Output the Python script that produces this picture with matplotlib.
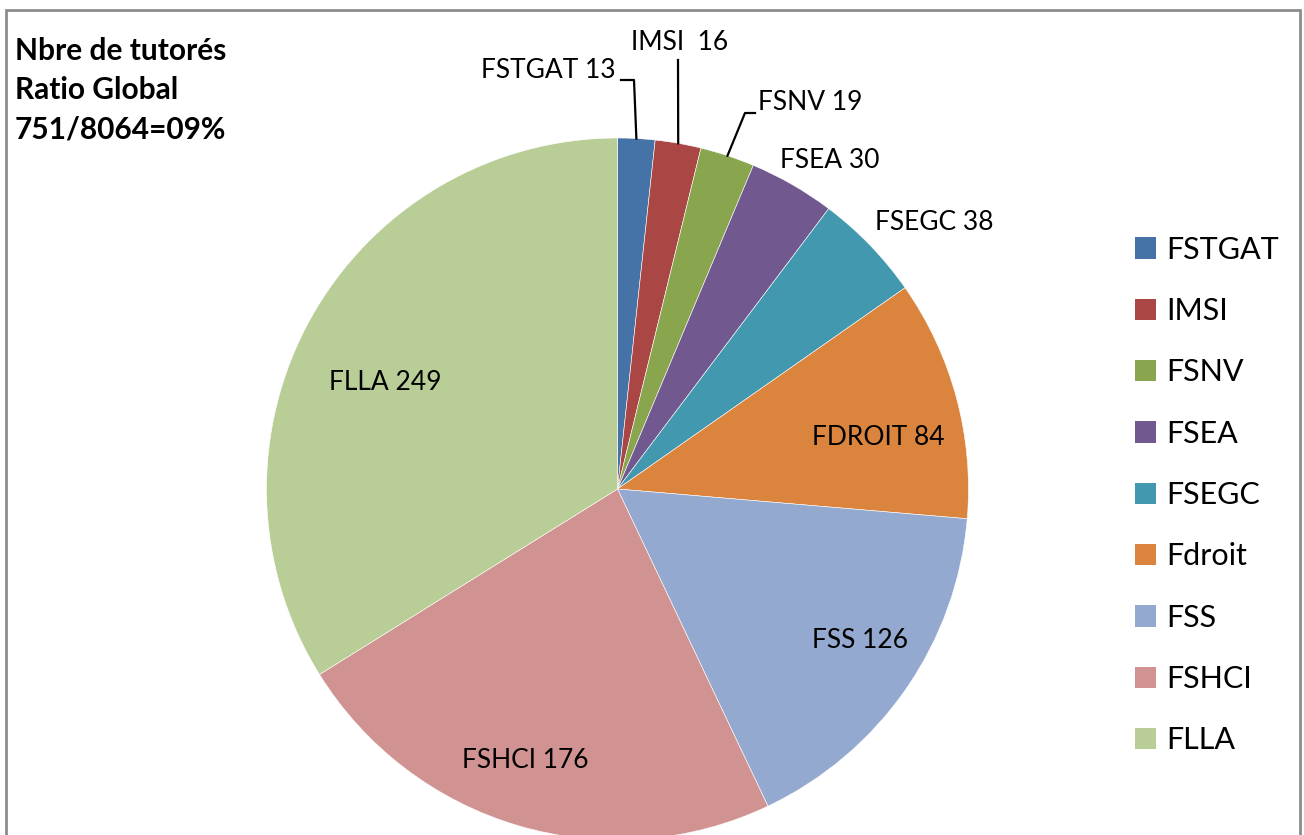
import matplotlib.pyplot as plt
import numpy as np
from matplotlib.patches import Rectangle, Patch

plt.rcParams['font.family'] = ['Lato', 'DejaVu Sans']

# data (wedge sizes as drawn; FLLA wedge is drawn larger than its typed label)
names = ["FSTGAT", "IMSI", "FSNV", "FSEA", "FSEGC", "Fdroit", "FSS", "FSHCI", "FLLA"]
values = [13, 16, 19, 30, 38, 84, 126, 176, 257]
slice_labels = ["FSTGAT 13", "IMSI  16", "FSNV 19", "FSEA 30", "FSEGC 38",
                "FDROIT 84", "FSS 126", "FSHCI 176", "FLLA 249"]
colors = ["#4572A7", "#AA4643", "#89A54E", "#71588F", "#4198AF",
          "#DB843D", "#93A9CF", "#D19392", "#B9CD96"]
title_lines = ["Nbre de tutorés", "Ratio Global", "751/8064=09%"]

W, H = 1304, 835
fig = plt.figure(figsize=(W / 100, H / 100), dpi=100)
ax = fig.add_axes([0, 0, 1, 1])

cx, cy, R = 617.5, H - 489, 351
wedges, _ = ax.pie(values, colors=colors, startangle=90, counterclock=False,
                   center=(cx, cy), radius=R,
                   wedgeprops=dict(edgecolor="white", linewidth=0.4))
ax.set_xlim(0, W)
ax.set_ylim(0, H)
ax.set_aspect("equal")
ax.axis("off")

# label radius (fraction of R) and angle shift (deg); None -> leader line label
label_r = [None, None, None, 1.116, 1.18, 0.757, 0.814, 0.816, 0.728]
label_dang = [0, 0, 0, -3.0, -3.9, -3.8, 2.8, -2.4, 4.5]
# leader lines: elbow points and text anchor (pixels, image coords)
leaders = {
    0: dict(elbow=[(634, 80), (621, 80)], text=(616, 71), ha="right"),
    1: dict(elbow=[(678, 60)], text=(680, 42), ha="center"),
    2: dict(elbow=[(745, 113), (755, 113)], text=(758, 103), ha="left"),
}

for i, w in enumerate(wedges):
    mid = np.deg2rad((w.theta1 + w.theta2) / 2 + label_dang[i])
    if label_r[i] is None:
        ex = cx + R * np.cos(mid)
        ey = cy + R * np.sin(mid)
        pts = [(ex, ey)] + [(x, H - y) for x, y in leaders[i]["elbow"]]
        ax.plot([p[0] for p in pts], [p[1] for p in pts], color="black", lw=1.6)
        tx, ty = leaders[i]["text"]
        ax.text(tx, H - ty, slice_labels[i], fontsize=19, ha=leaders[i]["ha"], va="center")
    else:
        r = label_r[i] * R
        ax.text(cx + r * np.cos(mid), cy + r * np.sin(mid), slice_labels[i],
                fontsize=19, ha="center", va="center")

# legend
handles = [Patch(facecolor=c, edgecolor="none") for c in colors]
fig.legend(handles, names, loc="center left", bbox_to_anchor=(1135 / W, 1 - 495 / H),
           bbox_transform=fig.transFigure, frameon=False, fontsize=22,
           handlelength=0.69, handleheight=0.69, handletextpad=0.33,
           labelspacing=1.09, borderpad=0, borderaxespad=0)

# title text
for k, line in enumerate(title_lines):
    fig.text(15 / W, 1 - (60 + 39 * k) / H, line, fontsize=21.5, fontweight="bold",
             ha="left", va="baseline")

# chart frame
fig.patches.append(Rectangle((6 / W, -0.05), (1300 - 6) / W, 1.05 - 10 / H,
                             transform=fig.transFigure, fill=False,
                             edgecolor="#8c8c8c", linewidth=2))

fig.savefig("out.png", dpi=100)
